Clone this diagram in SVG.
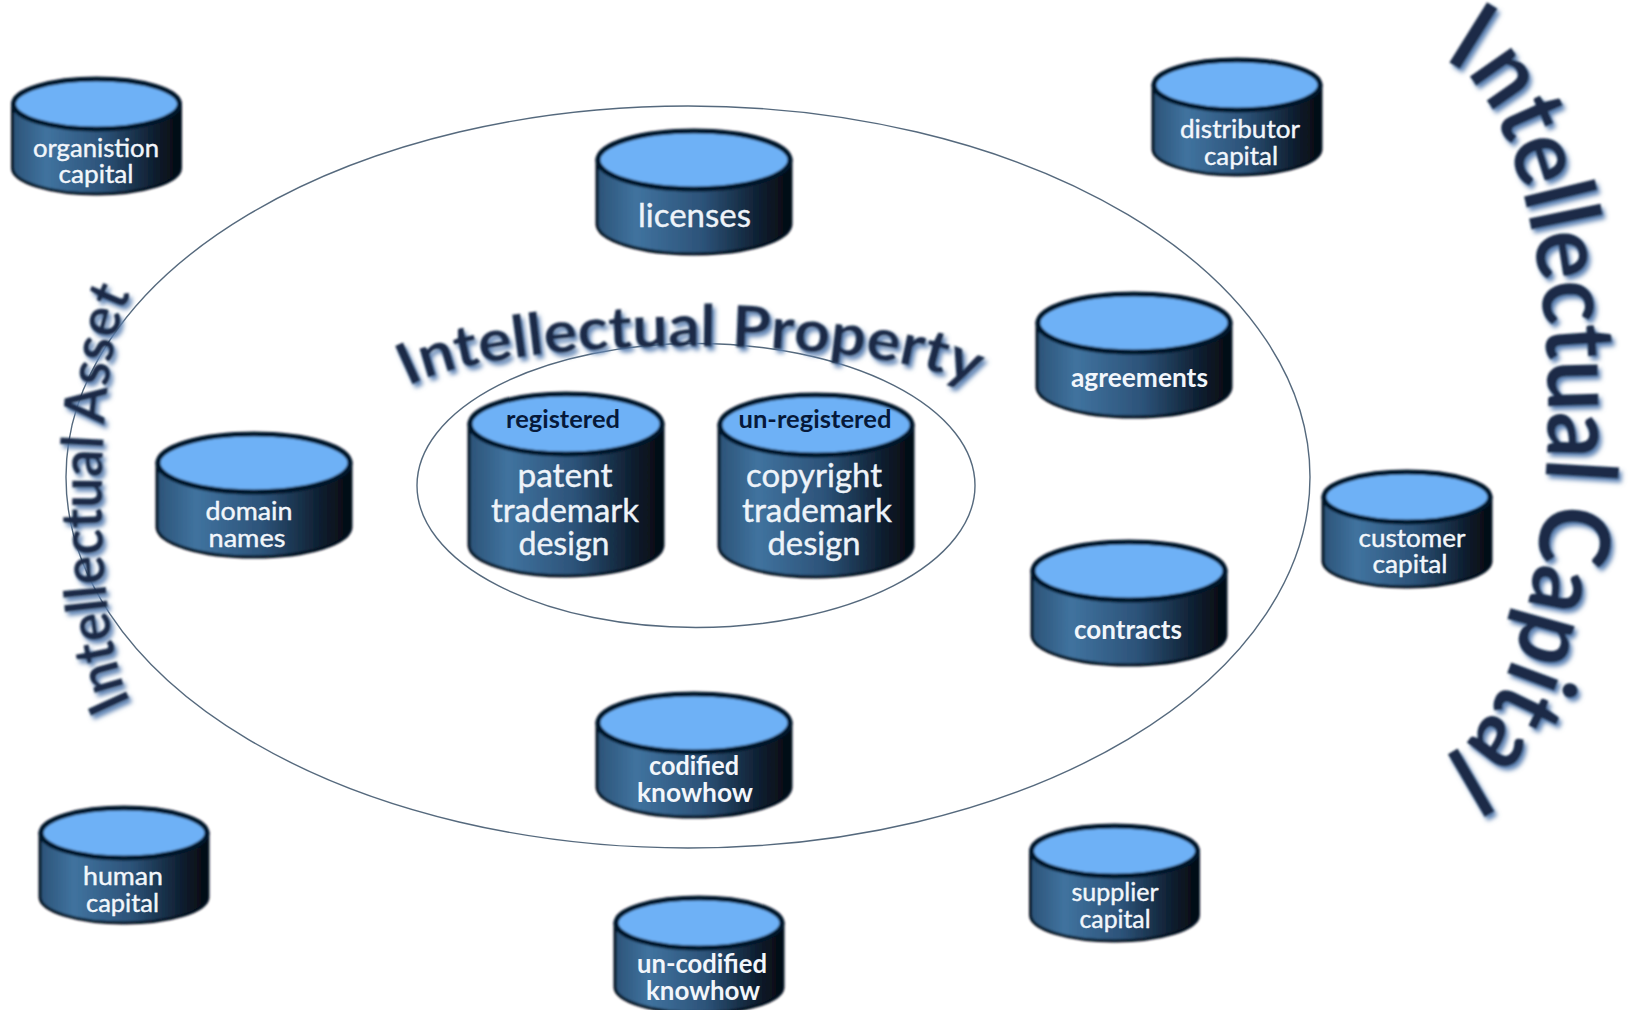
<svg xmlns="http://www.w3.org/2000/svg" width="1634" height="1010" viewBox="0 0 1634 1010">
<style>
text{font-family:"Lato","Noto Sans",sans-serif;text-anchor:middle}
.lb{fill:#f2f6fb;font-size:25px;font-weight:400;stroke:#f2f6fb;stroke-width:.4}
.lm{fill:#f2f6fb;font-size:26px;font-weight:700}
.ll{fill:#eef3f9;font-size:33px;font-weight:400;stroke:#eef3f9;stroke-width:.4}
.ld{fill:#06193a;font-size:25px;font-weight:700}
.title{fill:#1a2b47;font-weight:700;filter:url(#wa)}
.ring{fill:none;stroke:#55697d;stroke-width:1.4}
.body{stroke:#03101f;stroke-width:3;fill:url(#side)}
.top{fill:#6eb1f6;stroke:#03142b;stroke-width:5}
.cyl{filter:url(#soft)}
</style>
<defs>
<linearGradient id="side" x1="0" y1="0" x2="1" y2="0">
<stop offset="0" stop-color="#2c5378"/><stop offset=".2" stop-color="#40739f"/><stop offset=".55" stop-color="#2c5278"/><stop offset=".85" stop-color="#0d1d2e"/><stop offset="1" stop-color="#04090f"/>
</linearGradient>
<filter id="soft" x="-10%" y="-10%" width="120%" height="120%"><feGaussianBlur stdDeviation="0.9"/></filter>
<filter id="wa" x="-10%" y="-10%" width="120%" height="120%"><feGaussianBlur in="SourceGraphic" stdDeviation="0.8" result="b"/><feDropShadow in="b" dx="3" dy="4" stdDeviation="2" flood-color="#5f83b4"/></filter>
<g id="cyl-s"><path class="body" d="M-84 26V90A84 26 0 0 0 84 90V26Z"/><ellipse class="top" cx="0" cy="26" rx="83" ry="25"/></g>
<g id="cyl-l"><path class="body" d="M-97 30V94A97 30 0 0 0 97 94V30Z"/><ellipse class="top" cx="0" cy="30" rx="96" ry="29"/></g>
<g id="cyl-t"><path class="body" d="M-97 31V152A97 31 0 0 0 97 152V31Z"/><ellipse class="top" cx="0" cy="31" rx="96" ry="30"/></g>
<path id="arc-prop" d="M404 389A300 60 0 0 1 978 389"/>
<path id="arc-asset" d="M131.4 702A43 215 0 0 1 131.4 294"/>
<path id="arc-cap" d="M1430 58A118 350 0 0 1 1430 758"/>
</defs>
<g id="rings">
<ellipse id="asset-ring" class="ring" cx="688" cy="477" rx="622" ry="371"/>
<ellipse id="property-ring" class="ring" cx="696" cy="485.5" rx="279" ry="142"/>
</g>
<g id="connectors"/>
<g id="organistion-capital"><use class="cyl" href="#cyl-s" x="96.5" y="78"/><text class="lb" x="96" y="157" textLength="126" lengthAdjust="spacingAndGlyphs">organistion</text><text class="lb" x="96" y="183" textLength="75" lengthAdjust="spacingAndGlyphs">capital</text></g>
<g id="distributor-capital"><use class="cyl" href="#cyl-s" x="1237" y="59"/><text class="lb" x="1240" y="138" textLength="120" lengthAdjust="spacingAndGlyphs">distributor</text><text class="lb" x="1241" y="165" textLength="74" lengthAdjust="spacingAndGlyphs">capital</text></g>
<g id="customer-capital"><use class="cyl" href="#cyl-s" x="1407" y="471"/><text class="lb" x="1412" y="547" textLength="107" lengthAdjust="spacingAndGlyphs">customer</text><text class="lb" x="1410" y="573" textLength="75" lengthAdjust="spacingAndGlyphs">capital</text></g>
<g id="supplier-capital"><use class="cyl" href="#cyl-s" x="1114.5" y="825"/><text class="lb" x="1115" y="901" textLength="87" lengthAdjust="spacingAndGlyphs">supplier</text><text class="lb" x="1115" y="928" textLength="71" lengthAdjust="spacingAndGlyphs">capital</text></g>
<g id="human-capital"><use class="cyl" href="#cyl-s" x="124" y="807"/><text class="lb" x="123" y="885" textLength="80" lengthAdjust="spacingAndGlyphs">human</text><text class="lb" x="122.5" y="912" textLength="73" lengthAdjust="spacingAndGlyphs">capital</text></g>
<g id="uncodified-knowhow"><use class="cyl" href="#cyl-s" x="699" y="897"/><text class="lm" x="702" y="973" textLength="130" lengthAdjust="spacingAndGlyphs">un-codified</text><text class="lm" x="703" y="1000" textLength="114" lengthAdjust="spacingAndGlyphs">knowhow</text></g>
<g id="licenses"><use class="cyl" href="#cyl-l" x="694" y="130"/><text class="ll" x="694.5" y="227" textLength="113" lengthAdjust="spacingAndGlyphs">licenses</text></g>
<g id="domain-names"><use class="cyl" href="#cyl-l" x="254" y="433"/><text class="lb" x="249" y="520" textLength="87" lengthAdjust="spacingAndGlyphs">domain</text><text class="lb" x="247" y="547" textLength="77" lengthAdjust="spacingAndGlyphs">names</text></g>
<g id="agreements"><use class="cyl" href="#cyl-l" x="1134" y="293"/><text class="lm" x="1139.5" y="387" textLength="137" lengthAdjust="spacingAndGlyphs">agreements</text></g>
<g id="contracts"><use class="cyl" href="#cyl-l" x="1129" y="541"/><text class="lm" x="1128" y="639" textLength="108" lengthAdjust="spacingAndGlyphs">contracts</text></g>
<g id="codified-knowhow"><use class="cyl" href="#cyl-l" x="694" y="693"/><text class="lm" x="694" y="775" textLength="90" lengthAdjust="spacingAndGlyphs">codified</text><text class="lm" x="695" y="802" textLength="116" lengthAdjust="spacingAndGlyphs">knowhow</text></g>
<g id="registered"><use class="cyl" href="#cyl-t" x="566" y="393"/><text class="ld" x="563" y="428" textLength="114" lengthAdjust="spacingAndGlyphs">registered</text><text class="ll" x="565" y="487" textLength="95" lengthAdjust="spacingAndGlyphs">patent</text><text class="ll" x="565" y="522" textLength="148" lengthAdjust="spacingAndGlyphs">trademark</text><text class="ll" x="564" y="555" textLength="91" lengthAdjust="spacingAndGlyphs">design</text></g>
<g id="un-registered"><use class="cyl" href="#cyl-t" x="816" y="394"/><text class="ld" x="815" y="428" textLength="153" lengthAdjust="spacingAndGlyphs">un-registered</text><text class="ll" x="814" y="487" textLength="136" lengthAdjust="spacingAndGlyphs">copyright</text><text class="ll" x="817" y="522" textLength="150" lengthAdjust="spacingAndGlyphs">trademark</text><text class="ll" x="814" y="555" textLength="93" lengthAdjust="spacingAndGlyphs">design</text></g>
<g id="titles">
<text class="title" font-size="58"><textPath href="#arc-prop" startOffset="50%" textLength="575" lengthAdjust="spacingAndGlyphs">Intellectual Property</textPath></text>
<text class="title" font-size="58"><textPath href="#arc-asset" startOffset="50%" textLength="415" lengthAdjust="spacingAndGlyphs">Intellectual Asset</textPath></text>
<text class="title" font-size="98"><textPath href="#arc-cap" startOffset="50%" textLength="755" lengthAdjust="spacingAndGlyphs">Intellectual Capital</textPath></text>
</g>
</svg>
